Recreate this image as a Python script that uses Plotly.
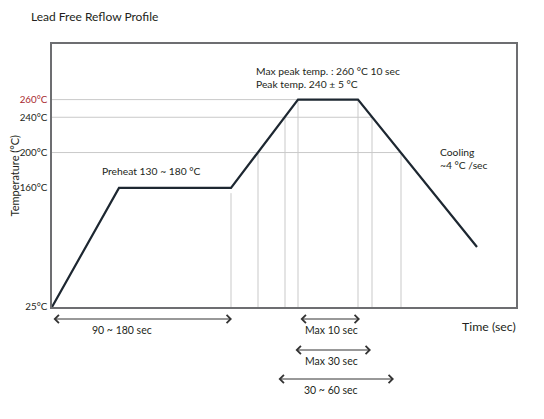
import plotly.graph_objects as go

# reflow profile (time in sec from start, temperature in degC)
profile_time = [0, 67, 179, 246, 306, 425]
profile_temp = [25, 160, 160, 260, 260, 93]

# horizontal reference lines: level and where they stop
grid_levels = [200, 240, 260]
grid_end_time = [349, 320, 306]

# vertical reference lines
guide_time = [179, 206, 233, 246, 306, 320, 349]
guide_top = [154, 200, 240, 260, 260, 240, 200]

tick_vals = [25, 160, 200, 240, 260]
tick_text = ["25°C", "160°C", "200°C", "240°C", "<span style='color:#a8292f'>260°C</span>"]

# duration arrows below the time axis
span_labels = ["90 ~ 180 sec", "Max 10 sec", "Max 30 sec", "30 ~ 60 sec"]
span_start = [0, 247, 242, 225]
span_end = [180, 308, 319, 342]
span_label_x = [70, 279, 279, 279]
span_row_px = [319, 319, 350, 379]

# page body has an 8px margin, so the figure is 8px smaller than the window
W, H = 536, 411
L, R, T, B = 44, 28, 36, 112
PW, PH = W - L - R, H - T - B
FONT = "Lato"
TXT = "#231f20"


def py(p):
    # reference pixel row -> paper y
    return (307 - p) / PH


def px(p):
    # reference pixel column -> paper x
    return (p - 52) / PW


fig = go.Figure()

gx, gy = [], []
for lvl, end in zip(grid_levels, grid_end_time):
    gx += [0, end, None]
    gy += [lvl, lvl, None]
for t, top in zip(guide_time, guide_top):
    gx += [t, t, None]
    gy += [25, top, None]
fig.add_trace(go.Scatter(x=gx, y=gy, mode='lines',
                         line=dict(color='#c9c9c9', width=1), hoverinfo='skip'))

fig.add_trace(go.Scatter(x=profile_time, y=profile_temp, mode='lines',
                         line=dict(color='#1d2731', width=2.2)))

annotations = []
for lab, s, e, lx, row in zip(span_labels, span_start, span_end, span_label_x, span_row_px):
    annotations.append(dict(x=e, y=py(row), ax=s, ay=py(row), xref='x', yref='y domain',
                            axref='x', ayref='y domain', text='', showarrow=True,
                            arrowside='end+start', arrowhead=4, arrowsize=1.6,
                            arrowwidth=1, arrowcolor='#333333'))
    annotations.append(dict(x=lx, y=py(row + 11), xref='x', yref='paper', text=lab,
                            xanchor='center', yanchor='middle', showarrow=False,
                            font=dict(size=10.5, color=TXT)))

annotations += [
    dict(x=px(13.5), y=py(176), xref='paper', yref='paper', text="Temperature (°C)",
         xanchor='center', yanchor='middle', textangle=-90, showarrow=False,
         font=dict(size=11, color=TXT)),
    dict(x=px(518), y=py(326), xref='paper', yref='paper', text="Time (sec)",
         xanchor='right', yanchor='middle', showarrow=False, font=dict(size=12.3, color=TXT)),
    dict(x=px(151), y=py(171), xref='paper', yref='paper', text="Preheat 130 ~ 180 °C",
         xanchor='center', yanchor='middle', showarrow=False, font=dict(size=10.3, color=TXT)),
    dict(x=px(254), y=py(77), xref='paper', yref='paper', xanchor='left', yanchor='middle',
         align='left', text="Max peak temp. : 260 °C 10 sec<br>Peak temp. 240 ± 5 °C",
         showarrow=False, font=dict(size=10.3, color=TXT)),
    dict(x=px(438), y=py(158), xref='paper', yref='paper', xanchor='left', yanchor='middle',
         align='left', text="Cooling<br>~4 °C /sec", showarrow=False,
         font=dict(size=10.3, color=TXT)),
]

fig.update_layout(
    width=W, height=H,
    margin=dict(l=L, r=R, t=T, b=B),
    paper_bgcolor='white', plot_bgcolor='white',
    showlegend=False,
    font=dict(family=FONT, color=TXT),
    title=dict(text="Lead Free Reflow Profile", x=23 / W, xanchor='left',
               xref='container', y=1 - 9 / H, yanchor='middle',
               font=dict(size=12, color=TXT)),
    xaxis=dict(range=[0, 464], showticklabels=False, showgrid=False, zeroline=False,
               showline=True, mirror=True, linecolor='#6d6e71', linewidth=1.5, ticks=''),
    yaxis=dict(range=[25, 323], tickvals=tick_vals, ticktext=tick_text,
               showgrid=False, zeroline=False, showline=True, mirror=True,
               linecolor='#6d6e71', linewidth=1.5, ticks='', ticklabelstandoff=1,
               tickfont=dict(size=9.8, color=TXT)),
    annotations=annotations,
)

fig.write_html("out.html")
